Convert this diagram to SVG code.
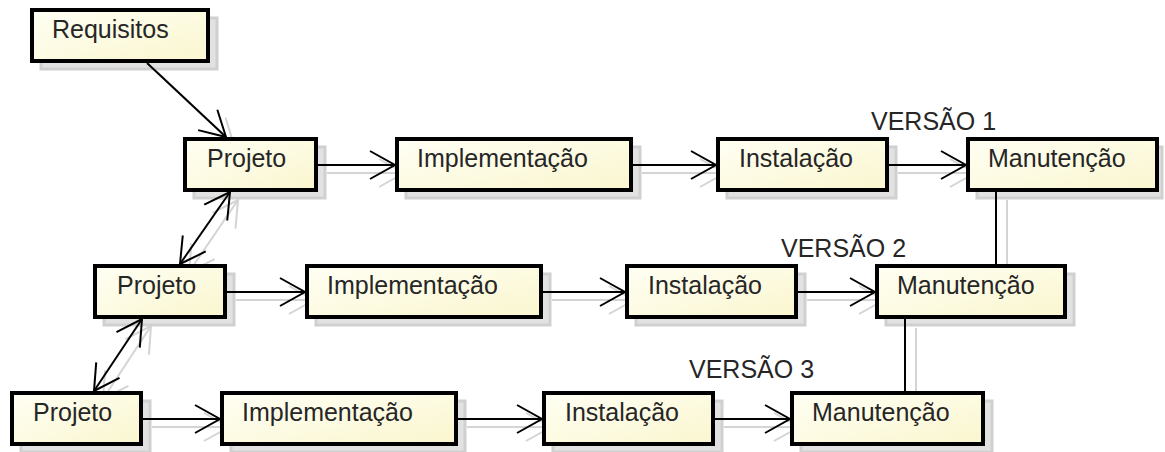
<svg xmlns="http://www.w3.org/2000/svg" width="1165" height="452" viewBox="0 0 1165 452">
  <style>
    .box { stroke: #000; stroke-width: 4; fill: url(#boxFill); }
    .shadow { fill: #e2e2e2; stroke: #d0d0d0; stroke-width: 3; }
    .label { font-family: "Liberation Sans", Arial, sans-serif; font-size: 25px; fill: #262626; }
    .edge { stroke: #000; stroke-width: 2; fill: none; }
    .edge-shadow { stroke: #d4d4d4; stroke-width: 2; fill: none; }
  </style>
  <defs>
    <linearGradient id="boxFill" x1="0" y1="0" x2="1" y2="1">
      <stop offset="0" stop-color="#fffff4"/>
      <stop offset="1" stop-color="#faf6cf"/>
    </linearGradient>
    <marker id="arrow" markerUnits="userSpaceOnUse" viewBox="-27 -16 30 32" markerWidth="30" markerHeight="32" refX="0" refY="0" orient="auto-start-reverse" overflow="visible">
      <path d="M-25,-14 L0,0 L-25,14" fill="none" stroke="#000" stroke-width="2"/>
    </marker>
    <marker id="arrowShadow" markerUnits="userSpaceOnUse" viewBox="-27 -16 30 32" markerWidth="30" markerHeight="32" refX="0" refY="0" orient="auto-start-reverse" overflow="visible">
      <path d="M-25,-14 L0,0 L-25,14" fill="none" stroke="#d4d4d4" stroke-width="2"/>
    </marker>
  </defs>

  <rect width="1165" height="452" fill="#fff"/>

  <!-- connector shadows -->
  <g id="connector-shadows">
    <line class="edge-shadow" x1="156" y1="71" x2="234" y2="145" marker-end="url(#arrowShadow)"/>
    <line class="edge-shadow" x1="238" y1="200" x2="189" y2="272" marker-start="url(#arrowShadow)" marker-end="url(#arrowShadow)"/>
    <line class="edge-shadow" x1="151" y1="326" x2="103" y2="399" marker-start="url(#arrowShadow)" marker-end="url(#arrowShadow)"/>
    <line class="edge-shadow" x1="327" y1="173" x2="404" y2="173" marker-end="url(#arrowShadow)"/>
    <line class="edge-shadow" x1="642" y1="173" x2="725" y2="173" marker-end="url(#arrowShadow)"/>
    <line class="edge-shadow" x1="898" y1="173" x2="975" y2="173" marker-end="url(#arrowShadow)"/>
    <line class="edge-shadow" x1="236" y1="300" x2="314" y2="300" marker-end="url(#arrowShadow)"/>
    <line class="edge-shadow" x1="552" y1="300" x2="634" y2="300" marker-end="url(#arrowShadow)"/>
    <line class="edge-shadow" x1="807" y1="300" x2="884" y2="300" marker-end="url(#arrowShadow)"/>
    <line class="edge-shadow" x1="152" y1="427" x2="229" y2="427" marker-end="url(#arrowShadow)"/>
    <line class="edge-shadow" x1="467" y1="427" x2="551" y2="427" marker-end="url(#arrowShadow)"/>
    <line class="edge-shadow" x1="724" y1="427" x2="799" y2="427" marker-end="url(#arrowShadow)"/>
    <line class="edge-shadow" x1="1007" y1="200" x2="1007" y2="272"/>
    <line class="edge-shadow" x1="916" y1="328" x2="916" y2="399"/>
  </g>

  <!-- node shadows -->
  <g id="node-shadows">
    <rect class="shadow" x="41" y="18" width="176" height="51"/>
    <rect class="shadow" x="194" y="147" width="131" height="51"/>
    <rect class="shadow" x="406" y="147" width="234" height="51"/>
    <rect class="shadow" x="727" y="147" width="169" height="51"/>
    <rect class="shadow" x="977" y="147" width="185" height="51"/>
    <rect class="shadow" x="104" y="274" width="130" height="51"/>
    <rect class="shadow" x="316" y="274" width="234" height="51"/>
    <rect class="shadow" x="636" y="274" width="169" height="51"/>
    <rect class="shadow" x="886" y="274" width="188" height="51"/>
    <rect class="shadow" x="21" y="401" width="129" height="51"/>
    <rect class="shadow" x="231" y="401" width="234" height="51"/>
    <rect class="shadow" x="553" y="401" width="169" height="51"/>
    <rect class="shadow" x="801" y="401" width="191" height="51"/>
  </g>

  <!-- connectors -->
  <g id="connectors">
    <line class="edge" x1="147" y1="63" x2="226" y2="137" marker-end="url(#arrow)"/>
    <line class="edge" x1="230" y1="192" x2="180" y2="264" marker-start="url(#arrow)" marker-end="url(#arrow)"/>
    <line class="edge" x1="142" y1="319" x2="94" y2="391" marker-start="url(#arrow)" marker-end="url(#arrow)"/>
    <line class="edge" x1="318" y1="165" x2="395" y2="165" marker-end="url(#arrow)"/>
    <line class="edge" x1="633" y1="165" x2="716" y2="165" marker-end="url(#arrow)"/>
    <line class="edge" x1="889" y1="165" x2="966" y2="165" marker-end="url(#arrow)"/>
    <line class="edge" x1="227" y1="292" x2="305" y2="292" marker-end="url(#arrow)"/>
    <line class="edge" x1="543" y1="292" x2="625" y2="292" marker-end="url(#arrow)"/>
    <line class="edge" x1="798" y1="292" x2="875" y2="292" marker-end="url(#arrow)"/>
    <line class="edge" x1="143" y1="419" x2="220" y2="419" marker-end="url(#arrow)"/>
    <line class="edge" x1="458" y1="419" x2="542" y2="419" marker-end="url(#arrow)"/>
    <line class="edge" x1="715" y1="419" x2="790" y2="419" marker-end="url(#arrow)"/>
    <line class="edge" x1="996" y1="192" x2="996" y2="264"/>
    <line class="edge" x1="905" y1="319" x2="905" y2="391"/>
  </g>

  <!-- nodes -->
  <g id="requisitos">
    <rect class="box" x="32" y="10" width="176" height="51"/>
    <text class="label" x="52" y="38">Requisitos</text>
  </g>
  <g id="projeto-1">
    <rect class="box" x="185" y="139" width="131" height="51"/>
    <text class="label" x="207" y="167">Projeto</text>
  </g>
  <g id="implementacao-1">
    <rect class="box" x="397" y="139" width="234" height="51"/>
    <text class="label" x="417" y="167">Implementação</text>
  </g>
  <g id="instalacao-1">
    <rect class="box" x="718" y="139" width="169" height="51"/>
    <text class="label" x="739" y="167">Instalação</text>
  </g>
  <g id="manutencao-1">
    <rect class="box" x="968" y="139" width="189" height="51"/>
    <text class="label" x="988" y="167">Manutenção</text>
  </g>

  <g id="projeto-2">
    <rect class="box" x="95" y="266" width="130" height="51"/>
    <text class="label" x="117" y="294">Projeto</text>
  </g>
  <g id="implementacao-2">
    <rect class="box" x="307" y="266" width="234" height="51"/>
    <text class="label" x="327" y="294">Implementação</text>
  </g>
  <g id="instalacao-2">
    <rect class="box" x="627" y="266" width="169" height="51"/>
    <text class="label" x="648" y="294">Instalação</text>
  </g>
  <g id="manutencao-2">
    <rect class="box" x="877" y="266" width="188" height="51"/>
    <text class="label" x="897" y="294">Manutenção</text>
  </g>

  <g id="projeto-3">
    <rect class="box" x="12" y="393" width="129" height="51"/>
    <text class="label" x="33" y="421">Projeto</text>
  </g>
  <g id="implementacao-3">
    <rect class="box" x="222" y="393" width="234" height="51"/>
    <text class="label" x="242" y="421">Implementação</text>
  </g>
  <g id="instalacao-3">
    <rect class="box" x="544" y="393" width="169" height="51"/>
    <text class="label" x="565" y="421">Instalação</text>
  </g>
  <g id="manutencao-3">
    <rect class="box" x="792" y="393" width="191" height="51"/>
    <text class="label" x="812" y="421">Manutenção</text>
  </g>

  <!-- version labels -->
  <g id="version-labels">
    <text class="label" x="871" y="130">VERSÃO 1</text>
    <text class="label" x="781" y="257">VERSÃO 2</text>
    <text class="label" x="689" y="378">VERSÃO 3</text>
  </g>
</svg>
